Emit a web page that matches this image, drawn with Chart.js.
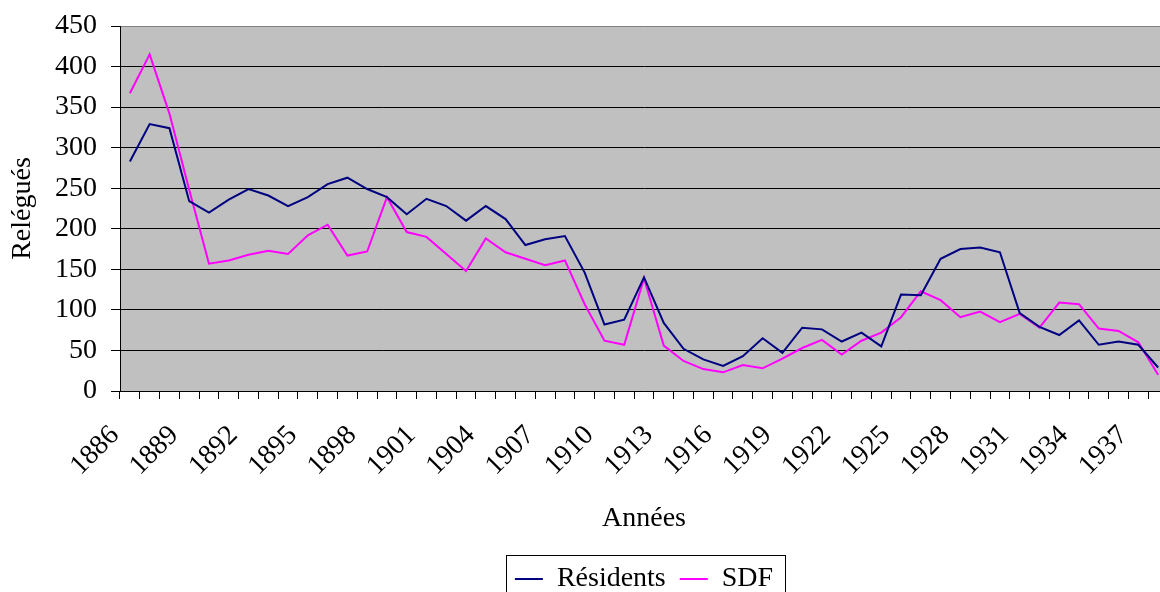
<!DOCTYPE html>
<html><head><meta charset="utf-8">
<script src="https://cdn.jsdelivr.net/npm/chart.js@4/dist/chart.umd.min.js"></script>
<style>
html,body{margin:0;padding:0;background:#fff;overflow:hidden;}
#wrap{width:1160px;height:592px;overflow:hidden;position:relative;background:#fff;}
canvas{display:block;}
</style></head><body>
<div id="wrap"><canvas id="c" width="1180" height="613"></canvas></div>
<script>
const years = [1886,1887,1888,1889,1890,1891,1892,1893,1894,1895,1896,1897,1898,1899,
  1900,1901,1902,1903,1904,1905,1906,1907,1908,1909,
  1910,1911,1912,1913,1914,1915,1916,1917,1918,1919,
  1920,1921,1922,1923,1924,1925,1926,1927,1928,1929,
  1930,1931,1932,1933,1934,1935,1936,1937,1938];
const residents = [283,329,324,234,220,236,249,241,228,239,255,263,249,239,
  218,237,228,210,228,212,180,187,191,146,
  82,88,140,84,52,39,31,43,65,47,
  78,76,61,72,55,119,118,163,175,177,
  171,96,79,69,87,57,61,57,29];
const sdf = [367,415,342,248,157,161,168,173,169,192,205,167,172,239,
  196,190,169,148,188,171,163,155,161,107,
  62,57,139,56,37,27,23,32,28,40,
  53,63,45,62,72,91,123,112,91,98,
  85,95,78,109,107,77,74,60,20];
const xTickLabels = [1886,1889,1892,1895,1898,1901,1904,1907,1910,1913,1916,1919,1922,1925,1928,1931,1934,1937];
const yTicks = [0,50,100,150,200,250,300,350,400,450];
const seriesNames = ['Résidents','SDF'];
const xTitle = 'Années';
const yTitle = 'Relégués';

const FONT = {family:"'Liberation Serif','Times New Roman',serif", size:28};

const plotBg = {
  id:'plotBg',
  beforeDraw(chart){
    const {ctx, chartArea:a} = chart;
    ctx.save();
    ctx.fillStyle = '#C0C0C0';
    ctx.fillRect(a.left, a.top, a.right - a.left, a.bottom - a.top);
    ctx.restore();
  }
};
const legendBorder = {
  id:'legendBorder',
  afterDraw(chart){
    const hb = chart.legend && chart.legend.legendHitBoxes;
    if (!hb || !hb.length) return;
    let l = Infinity, r = -Infinity, t = Infinity, b = -Infinity;
    hb.forEach(h => { l = Math.min(l, h.left); r = Math.max(r, h.left + h.width); t = Math.min(t, h.top); b = Math.max(b, h.top + h.height); });
    const ctx = chart.ctx;
    ctx.save();
    ctx.strokeStyle = '#000';
    ctx.lineWidth = 1;
    ctx.strokeRect(Math.round(l - 9) + 0.5, Math.round(t - 10) + 0.5, Math.round(r - l + 21), Math.round(b - t + 20));
    ctx.restore();
  }
};

new Chart(document.getElementById('c'), {
  type:'line',
  data:{
    labels: years,
    datasets:[
      {label:seriesNames[0], data:residents, borderColor:'#000080', backgroundColor:'#000080', borderWidth:2, pointRadius:0, tension:0, fill:false},
      {label:seriesNames[1], data:sdf, borderColor:'#FF00FF', backgroundColor:'#FF00FF', borderWidth:2, pointRadius:0, tension:0, fill:false}
    ]
  },
  options:{
    responsive:false,
    animation:false,
    devicePixelRatio:1,
    layout:{padding:{left:0,right:12,top:26,bottom:10}},
    plugins:{
      tooltip:{enabled:false},
      legend:{
        position:'bottom',
        fullSize:false,
        labels:{
          boxWidth:28, boxHeight:2, padding:14, font:FONT, color:'#000',
          generateLabels(chart){
            return Chart.defaults.plugins.legend.labels.generateLabels(chart).map(l => Object.assign(l, {lineWidth:0}));
          }
        }
      }
    },
    scales:{
      x:{
        type:'category',
        offset:true,
        grid:{offset:true, drawOnChartArea:false, drawTicks:true, tickLength:8, tickColor:'#000', color:'#000'},
        border:{color:'#000', width:1},
        ticks:{
          autoSkip:false, minRotation:45, maxRotation:45, labelOffset:-15, padding:20,
          font:FONT, color:'#000',
          callback(v, i){ const y = years[i]; return xTickLabels.includes(y) ? String(y) : ''; }
        },
        title:{display:true, text:xTitle, font:FONT, color:'#000', padding:{top:0,bottom:16}},
        afterFit(s){ s.height = 160; s.paddingLeft = 0; s.paddingRight = 0; }
      },
      y:{
        min:0, max:450,
        afterBuildTicks(s){ s.ticks = yTicks.map(v => ({value:v})); },
        ticks:{font:FONT, color:'#000', padding:14},
        grid:{
          color:(c) => (c.tick && c.tick.value === 450) ? '#808080' : '#000',
          lineWidth:1, tickLength:9, tickColor:'#000', drawTicks:true
        },
        border:{color:'#000', width:1},
        title:{display:true, text:yTitle, font:FONT, color:'#000', padding:{top:6}},
        afterFit(s){ s.width = 120; s.paddingTop = 0; s.paddingBottom = 0; }
      }
    }
  },
  plugins:[plotBg, legendBorder]
});
</script>
</body></html>
